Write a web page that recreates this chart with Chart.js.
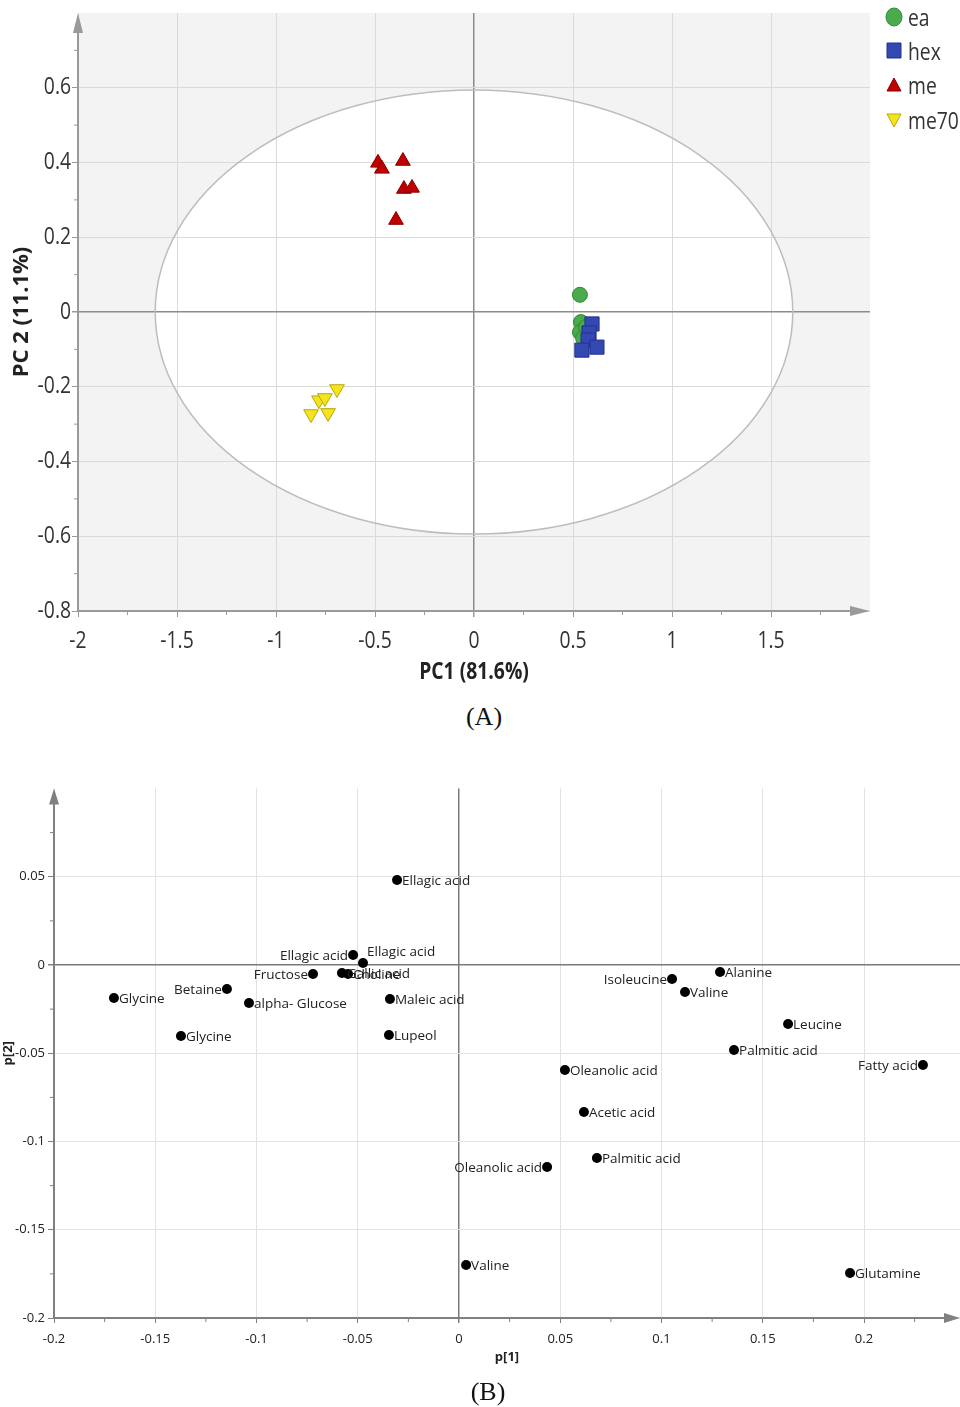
<!DOCTYPE html>
<html>
<head>
<meta charset="utf-8">
<script src="https://cdn.jsdelivr.net/npm/chart.js@4/dist/chart.umd.min.js"></script>
<style>
  html, body { margin: 0; padding: 0; background: #fff; }
  body { width: 960px; height: 1407px; position: relative; overflow: hidden; }
  #cA { position: absolute; left: 0; top: 0; }
  #cB { position: absolute; left: 0; top: 780px; }
  .cap { position: absolute; font-family: "Liberation Serif", "Times New Roman", serif; font-size: 26px; color: #111; transform: translate(-50%, -50%); }
</style>
</head>
<body>
<canvas id="cA" width="960" height="700"></canvas>
<div class="cap" style="left:484px; top:717px;">(A)</div>
<canvas id="cB" width="960" height="600"></canvas>
<div class="cap" style="left:488px; top:1392px;">(B)</div>
<script>
// ---------- Data: chart A (scores) ----------
const groupNames = ['ea', 'hex', 'me', 'me70'];
const eaPC1 = [0.535, 0.540, 0.535, 0.566, 0.551];
const eaPC2 = [0.046, -0.027, -0.054, -0.040, -0.070];
const hexPC1 = [0.596, 0.581, 0.576, 0.545, 0.621];
const hexPC2 = [-0.032, -0.056, -0.075, -0.102, -0.094];
const mePC1 = [-0.485, -0.465, -0.359, -0.354, -0.313, -0.394];
const mePC2 = [0.399, 0.383, 0.404, 0.329, 0.332, 0.246];
const me70PC1 = [-0.692, -0.783, -0.753, -0.823, -0.737];
const me70PC2 = [-0.206, -0.236, -0.230, -0.273, -0.270];
const ellipseRadiusPC1 = 1.61;
const ellipseRadiusPC2 = 0.594;
const xTicksA = [-2, -1.5, -1, -0.5, 0, 0.5, 1, 1.5];
const yTicksA = [-0.8, -0.6, -0.4, -0.2, 0, 0.2, 0.4, 0.6];
const xMinorA = [-1.75, -1.25, -0.75, -0.25, 0.25, 0.75, 1.25, 1.75];
const yMinorA = [-0.7, -0.5, -0.3, -0.1, 0.1, 0.3, 0.5, 0.7];
const xRangeA = [-2, 2];
const yRangeA = [-0.8, 0.8];
const xTitleA = 'PC1 (81.6%)';
const yTitleA = 'PC 2 (11.1%)';

// ---------- Data: chart B (loadings) ----------
const varNames = ['Ellagic acid', 'Ellagic acid', 'Ellagic acid', 'Fructose', 'Gallic acid', 'Choline',
  'Glycine', 'Betaine', 'alpha- Glucose', 'Maleic acid', 'Glycine', 'Lupeol', 'Isoleucine', 'Alanine',
  'Valine', 'Leucine', 'Palmitic acid', 'Fatty acid', 'Oleanolic acid', 'Acetic acid', 'Palmitic acid',
  'Oleanolic acid', 'Valine', 'Glutamine'];
const p1 = [-0.0306, -0.0523, -0.0474, -0.0721, -0.0578, -0.0548, -0.1704, -0.1146, -0.1037, -0.0341,
  -0.1373, -0.0346, 0.1052, 0.1289, 0.1116, 0.1625, 0.1358, 0.2291, 0.0523, 0.0617, 0.0681, 0.0435,
  0.0035, 0.1931];
const p2 = [0.0482, 0.0057, 0.0011, -0.0051, -0.0045, -0.0051, -0.0187, -0.0136, -0.0215, -0.0193,
  -0.0402, -0.0397, -0.0079, -0.0040, -0.0153, -0.0334, -0.0482, -0.0567, -0.0595, -0.0833, -0.1093,
  -0.1144, -0.1700, -0.1745];
const xTicksB = [-0.2, -0.15, -0.1, -0.05, 0, 0.05, 0.1, 0.15, 0.2];
const yTicksB = [-0.2, -0.15, -0.1, -0.05, 0, 0.05];
const xMinorB = [-0.175, -0.125, -0.075, -0.025, 0.025, 0.075, 0.125, 0.175, 0.225];
const yMinorB = [-0.175, -0.125, -0.075, -0.025, 0.025, 0.075];
const xRangeB = [-0.2, 0.2474];
const yRangeB = [-0.2, 0.1];

// label placement (style): r = right, l = left, ur = upper right
const labelPlacement = ['r', 'l', 'ur', 'l', 'r', 'r', 'r', 'l', 'r', 'r', 'r', 'r', 'l', 'r', 'r', 'r', 'r', 'l', 'r', 'r', 'r', 'l', 'r', 'r'];

function pts(xs, ys) { return xs.map((x, i) => ({ x: x, y: ys[i] })); }

const fontA = '"Open Sans", "Noto Sans", sans-serif';
const sansB = '"Open Sans", "Noto Sans", sans-serif';
const squeeze = 0.84;

function ctext(ctx, txt, x, y, align, font, color, sx, rot) {
  ctx.save();
  ctx.translate(x, y);
  if (rot) ctx.rotate(rot);
  ctx.scale(sx, 1);
  ctx.font = font;
  ctx.fillStyle = color;
  ctx.textAlign = align;
  ctx.textBaseline = 'middle';
  ctx.fillText(txt, 0, 0);
  ctx.restore();
}

function arrow(ctx, x, y, dir, len, half, color) {
  ctx.save();
  ctx.fillStyle = color;
  ctx.beginPath();
  if (dir === 'up') { ctx.moveTo(x, y); ctx.lineTo(x - half, y + len); ctx.lineTo(x + half, y + len); }
  else { ctx.moveTo(x, y); ctx.lineTo(x - len, y - half); ctx.lineTo(x - len, y + half); }
  ctx.closePath();
  ctx.fill();
  ctx.restore();
}

function axesPlugin(cfg) {
  return {
    id: 'axes_' + cfg.id,
    beforeDatasetsDraw(chart) {
      const { ctx, chartArea: a, scales } = chart;
      ctx.save();
      ctx.strokeStyle = cfg.axisColor;
      ctx.lineWidth = cfg.axisWidth;
      ctx.beginPath();
      ctx.moveTo(a.left, a.bottom); ctx.lineTo(a.left, a.top + cfg.arrowLen - 2);
      ctx.moveTo(a.left, a.bottom); ctx.lineTo(a.right - cfg.arrowLen + 2, a.bottom);
      ctx.stroke();
      arrow(ctx, a.left, a.top, 'up', cfg.arrowLen, cfg.arrowHalf, cfg.axisColor);
      arrow(ctx, a.right, a.bottom, 'right', cfg.arrowLen, cfg.arrowHalf, cfg.axisColor);
      ctx.lineWidth = 1;
      ctx.strokeStyle = cfg.tickColor;
      ctx.beginPath();
      cfg.xMinor.forEach(v => {
        const px = scales.x.getPixelForValue(v);
        ctx.moveTo(px, a.bottom); ctx.lineTo(px, a.bottom + cfg.minorLen);
      });
      cfg.yMinor.forEach(v => {
        const py = scales.y.getPixelForValue(v);
        ctx.moveTo(a.left, py); ctx.lineTo(a.left - cfg.minorLen, py);
      });
      ctx.stroke();
      ctx.restore();
    }
  };
}

function fitX(h) { return s => { s.height = h; s.paddingLeft = 0; s.paddingRight = 0; }; }
function fitY(w) { return s => { s.width = w; s.paddingTop = 0; s.paddingBottom = 0; }; }

// ---------- Chart A ----------
const bgPluginA = {
  id: 'bgA',
  beforeDraw(chart) {
    const { ctx, chartArea: a, scales } = chart;
    ctx.save();
    ctx.fillStyle = '#f3f3f3';
    ctx.fillRect(a.left, a.top, a.right - a.left, a.bottom - a.top);
    const cx = scales.x.getPixelForValue(0), cy = scales.y.getPixelForValue(0);
    const rx = scales.x.getPixelForValue(ellipseRadiusPC1) - cx;
    const ry = cy - scales.y.getPixelForValue(ellipseRadiusPC2);
    ctx.beginPath();
    ctx.ellipse(cx, cy, rx, ry, 0, 0, Math.PI * 2);
    ctx.fillStyle = '#ffffff';
    ctx.fill();
    ctx.restore();
  },
  beforeDatasetsDraw(chart) {
    const { ctx, scales } = chart;
    const cx = scales.x.getPixelForValue(0), cy = scales.y.getPixelForValue(0);
    const rx = scales.x.getPixelForValue(ellipseRadiusPC1) - cx;
    const ry = cy - scales.y.getPixelForValue(ellipseRadiusPC2);
    ctx.save();
    ctx.beginPath();
    ctx.ellipse(cx, cy, rx, ry, 0, 0, Math.PI * 2);
    ctx.strokeStyle = '#bdbdbd';
    ctx.lineWidth = 1.5;
    ctx.stroke();
    ctx.restore();
  }
};

// tick labels and titles of chart A (drawn through the scales, squeezed horizontally like the reference)
const textPluginA = {
  id: 'textA',
  afterDraw(chart) {
    const { ctx, chartArea: a, scales } = chart;
    const tf = '23px ' + fontA;
    scales.x.ticks.forEach(t => {
      ctext(ctx, String(t.value), scales.x.getPixelForValue(t.value), a.bottom + 30, 'center', tf, '#333', squeeze, 0);
    });
    scales.y.ticks.forEach(t => {
      ctext(ctx, String(t.value), a.left - 7, scales.y.getPixelForValue(t.value), 'right', tf, '#333', squeeze, 0);
    });
    ctext(ctx, xTitleA, (a.left + a.right) / 2, a.bottom + 61, 'center', 'bold 23px ' + fontA, '#222', squeeze, 0);
    ctext(ctx, yTitleA, 22, (a.top + a.bottom) / 2, 'center', 'bold 22px ' + fontA, '#222', 1, -Math.PI / 2);
  }
};

const markerStyles = [
  { shape: 'circle', fill: '#4aaa4c', stroke: '#2f8a33' },
  { shape: 'square', fill: '#3448b2', stroke: '#22338c' },
  { shape: 'tri', fill: '#c00000', stroke: '#870000' },
  { shape: 'itri', fill: '#f4e41e', stroke: '#b9a70a' }
];

const legendPluginA = {
  id: 'legA',
  afterDraw(chart) {
    const ctx = chart.ctx;
    const x = 894, ys = [17, 51, 85, 120];
    ctx.save();
    groupNames.forEach((name, i) => {
      const s = markerStyles[i], y = ys[i];
      ctx.fillStyle = s.fill; ctx.strokeStyle = s.stroke; ctx.lineWidth = 1;
      ctx.beginPath();
      if (s.shape === 'circle') ctx.ellipse(x, y, 8, 9, 0, 0, Math.PI * 2);
      else if (s.shape === 'square') ctx.rect(x - 7, y - 8, 14, 15);
      else if (s.shape === 'tri') { ctx.moveTo(x, y - 7); ctx.lineTo(x - 7, y + 6); ctx.lineTo(x + 7, y + 6); ctx.closePath(); }
      else { ctx.moveTo(x, y + 7); ctx.lineTo(x - 7, y - 6); ctx.lineTo(x + 7, y - 6); ctx.closePath(); }
      ctx.fill(); ctx.stroke();
      ctext(ctx, name, 908, y + 2, 'left', '23px ' + fontA, '#333', squeeze, 0);
    });
    ctx.restore();
  }
};

new Chart(document.getElementById('cA'), {
  type: 'scatter',
  data: {
    datasets: [
      { label: groupNames[0], data: pts(eaPC1, eaPC2), order: 1, pointStyle: 'circle', pointRadius: 7.5, pointHoverRadius: 7.5,
        backgroundColor: markerStyles[0].fill, borderColor: markerStyles[0].stroke, borderWidth: 1 },
      { label: groupNames[1], data: pts(hexPC1, hexPC2), order: 0, pointStyle: 'rect', pointRadius: 10, pointHoverRadius: 10,
        backgroundColor: markerStyles[1].fill, borderColor: markerStyles[1].stroke, borderWidth: 1 },
      { label: groupNames[2], data: pts(mePC1, mePC2), order: 2, pointStyle: 'triangle', pointRadius: 8.5, pointHoverRadius: 8.5,
        backgroundColor: markerStyles[2].fill, borderColor: markerStyles[2].stroke, borderWidth: 1 },
      { label: groupNames[3], data: pts(me70PC1, me70PC2), order: 3, pointStyle: 'triangle', rotation: 180, pointRadius: 8.5, pointHoverRadius: 8.5,
        backgroundColor: markerStyles[3].fill, borderColor: markerStyles[3].stroke, borderWidth: 1 }
    ]
  },
  options: {
    responsive: false, animation: false, devicePixelRatio: 1,
    layout: { autoPadding: false, padding: { left: 0, right: 90, top: 13, bottom: 0 } },
    plugins: { legend: { display: false }, tooltip: { enabled: false } },
    scales: {
      x: {
        type: 'linear', min: xRangeA[0], max: xRangeA[1],
        afterBuildTicks: s => { s.ticks = xTicksA.map(v => ({ value: v })); },
        afterFit: fitX(89),
        border: { display: false },
        grid: {
          color: c => (c.tick && c.tick.value === 0) ? '#8c8c8c' : '#dadada',
          lineWidth: c => (c.tick && c.tick.value === 0) ? 1.5 : 1,
          tickColor: '#999', tickLength: 6
        },
        ticks: { display: false }
      },
      y: {
        type: 'linear', min: yRangeA[0], max: yRangeA[1],
        afterBuildTicks: s => { s.ticks = yTicksA.map(v => ({ value: v })); },
        afterFit: fitY(78),
        border: { display: false },
        grid: {
          color: c => (c.tick && c.tick.value === 0) ? '#8c8c8c' : '#dadada',
          lineWidth: c => (c.tick && c.tick.value === 0) ? 1.5 : 1,
          tickColor: '#999', tickLength: 6
        },
        ticks: { display: false }
      }
    }
  },
  plugins: [bgPluginA, axesPlugin({ id: 'A', axisColor: '#9a9a9a', axisWidth: 2, tickColor: '#9a9a9a', arrowLen: 20, arrowHalf: 5,
    minorLen: 4, xMinor: xMinorA, yMinor: yMinorA }), textPluginA, legendPluginA]
});

// ---------- Chart B ----------
const labelPluginB = {
  id: 'labelsB',
  afterDatasetsDraw(chart) {
    const { ctx } = chart;
    const meta = chart.getDatasetMeta(0);
    ctx.save();
    ctx.font = '13.5px ' + sansB;
    ctx.fillStyle = '#222';
    ctx.textBaseline = 'middle';
    meta.data.forEach((el, i) => {
      const pl = labelPlacement[i];
      let x = el.x, y = el.y + 1;
      if (pl === 'l') { ctx.textAlign = 'right'; x -= 5; }
      else if (pl === 'ur') { ctx.textAlign = 'left'; x += 4; y -= 12; }
      else { ctx.textAlign = 'left'; x += 5; }
      ctx.fillText(varNames[i], x, y);
    });
    ctx.restore();
  }
};

new Chart(document.getElementById('cB'), {
  type: 'scatter',
  data: {
    datasets: [
      { label: 'loadings', data: pts(p1, p2), pointStyle: 'circle', pointRadius: 5, pointHoverRadius: 5,
        backgroundColor: '#000', borderColor: '#000', borderWidth: 0 }
    ]
  },
  options: {
    responsive: false, animation: false, devicePixelRatio: 1,
    layout: { autoPadding: false, padding: { left: 0, right: 0, top: 8.5, bottom: 0 } },
    plugins: { legend: { display: false }, tooltip: { enabled: false } },
    scales: {
      x: {
        type: 'linear', min: xRangeB[0], max: xRangeB[1],
        afterBuildTicks: s => { s.ticks = xTicksB.map(v => ({ value: v })); },
        afterFit: fitX(62),
        border: { display: false },
        grid: {
          color: c => (c.tick && c.tick.value === 0) ? '#7a7a7a' : '#e2e2e2',
          lineWidth: c => (c.tick && c.tick.value === 0) ? 1.5 : 1,
          tickColor: '#808080', tickLength: 5
        },
        ticks: { color: '#222', font: { family: sansB, size: 13 }, padding: 8, callback: v => String(v) },
        title: { display: true, text: 'p[1]', color: '#222', font: { family: sansB, size: 13, weight: 'bold' }, padding: { top: 0, bottom: 15 } }
      },
      y: {
        type: 'linear', min: yRangeB[0], max: yRangeB[1],
        afterBuildTicks: s => { s.ticks = yTicksB.map(v => ({ value: v })); },
        afterFit: fitY(54),
        border: { display: false },
        grid: {
          color: c => (c.tick && c.tick.value === 0) ? '#7a7a7a' : '#e2e2e2',
          lineWidth: c => (c.tick && c.tick.value === 0) ? 1.5 : 1,
          tickColor: '#808080', tickLength: 6
        },
        ticks: { color: '#222', font: { family: sansB, size: 13 }, padding: 3, callback: v => String(v) },
        title: { display: true, text: 'p[2]', color: '#222', font: { family: sansB, size: 13, weight: 'bold' }, padding: { top: 0, bottom: 0 } }
      }
    }
  },
  plugins: [axesPlugin({ id: 'B', axisColor: '#808080', axisWidth: 2, tickColor: '#808080', arrowLen: 16, arrowHalf: 5,
    minorLen: 4, xMinor: xMinorB, yMinor: yMinorB }), labelPluginB]
});
</script>
</body>
</html>
